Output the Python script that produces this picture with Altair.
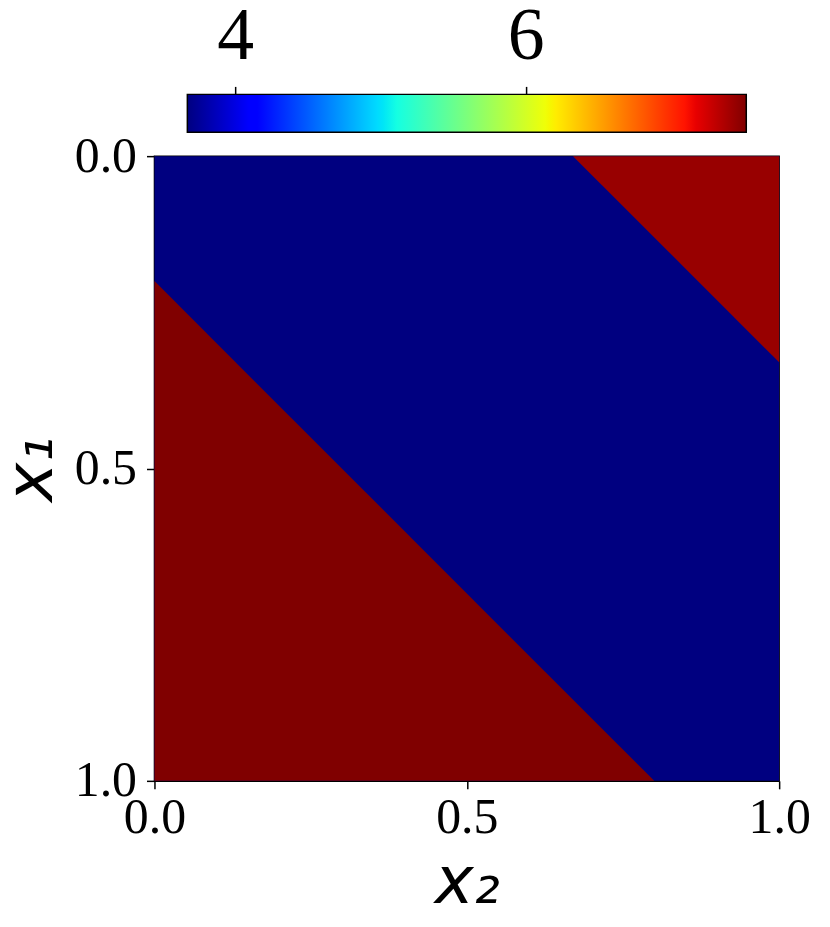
import altair as alt
import numpy as np
import pandas as pd

# ---- data ----
vmin = 3.67            # value of the blue region (colour-bar minimum)
vmax = 7.52            # value of the lower-left red region (colour-bar maximum)
v_upper = 7.44         # value of the upper-right red region

# lower-left region boundary (x2 -> x1), filled down to x1 = 1
lower_x2 = [0.0, 0.8]
lower_x1 = [0.2, 1.0]
# upper-right region boundary (x2 -> x1), filled up to x1 = 0
upper_x2 = [0.67, 1.0]
upper_x1 = [0.0, 0.33]

axis_ticks = [0.0, 0.5, 1.0]
cbar_ticks = [4, 6]

# ---- jet colour map (matplotlib segment data) ----
jet_r = [(0.0, 0.0), (0.35, 0.0), (0.66, 1.0), (0.89, 1.0), (1.0, 0.5)]
jet_g = [(0.0, 0.0), (0.125, 0.0), (0.375, 1.0), (0.64, 1.0), (0.91, 0.0), (1.0, 0.0)]
jet_b = [(0.0, 0.5), (0.11, 1.0), (0.34, 1.0), (0.65, 0.0), (1.0, 0.0)]
ts = sorted(set([p[0] for p in jet_r + jet_g + jet_b]))


def chan(seg, t):
    return float(np.interp(t, [p[0] for p in seg], [p[1] for p in seg]))


def hexcol(t):
    r, g, b = chan(jet_r, t), chan(jet_g, t), chan(jet_b, t)
    return "#%02x%02x%02x" % (round(r * 255), round(g * 255), round(b * 255))


jet_cols = [hexcol(t) for t in ts]
jet_dom = [vmin + t * (vmax - vmin) for t in ts]
cscale = alt.Scale(type="linear", domain=jet_dom, range=jet_cols, interpolate="rgb")

xs = alt.Scale(domain=[0, 1], nice=False, zero=False)
ys = alt.Scale(domain=[0, 1], nice=False, zero=False, reverse=True)

SERIF = "Liberation Serif"
W = 627

bg_df = pd.DataFrame({"a": [0.0], "b": [1.0], "c": [0.0], "d": [1.0], "v": [vmin]})
lower_df = pd.DataFrame({"x2": lower_x2, "x1": lower_x1, "x1b": [1.0] * len(lower_x2), "v": [vmax] * len(lower_x2)})
upper_df = pd.DataFrame({"x2": upper_x2, "x1": upper_x1, "x1b": [0.0] * len(upper_x2), "v": [v_upper] * len(upper_x2)})

xaxis = alt.Axis(values=axis_ticks, format=".1f", title="x₂", labelFlush=False,
                 labelPadding=4, titlePadding=8)
yaxis = alt.Axis(values=axis_ticks, format=".1f", title="x₁", labelFlush=False,
                 labelPadding=10, titlePadding=9)

bg = alt.Chart(bg_df).mark_rect().encode(
    x=alt.X("a:Q", scale=xs, axis=xaxis), x2="b:Q",
    y=alt.Y("c:Q", scale=ys, axis=yaxis), y2="d:Q",
    color=alt.Color("v:Q", scale=cscale, legend=None),
)
lower = alt.Chart(lower_df).mark_area(interpolate="linear").encode(
    x=alt.X("x2:Q", scale=xs), y=alt.Y("x1:Q", scale=ys), y2="x1b:Q",
    color=alt.Color("v:Q", scale=cscale, legend=None),
)
upper = alt.Chart(upper_df).mark_area(interpolate="linear").encode(
    x=alt.X("x2:Q", scale=xs), y=alt.Y("x1:Q", scale=ys), y2="x1b:Q",
    color=alt.Color("v:Q", scale=cscale, legend=None),
)
main = alt.layer(bg, lower, upper).properties(
    width=W, height=W,
    view=alt.ViewBackground(stroke="black", strokeWidth=1.5),
)

# ---- colour bar ----
px_per_unit = 145.7
pad_l = (187 - 154) / px_per_unit
pad_r = (781 - 748) / px_per_unit
cb_df = pd.DataFrame({"lo": [vmin], "hi": [vmax]})
grad = alt.Gradient(
    gradient="linear", x1=0, x2=1, y1=0, y2=0,
    stops=[alt.GradientStop(color=c, offset=t) for t, c in zip(ts, jet_cols)],
)
cbar = alt.Chart(cb_df).mark_rect(fill=grad, stroke="black", strokeWidth=1.5).encode(
    x=alt.X("lo:Q", scale=alt.Scale(domain=[vmin - pad_l, vmax + pad_r], nice=False, zero=False),
            axis=alt.Axis(orient="top", values=cbar_ticks, format="d", domain=False,
                          labelFontSize=74, labelPadding=12, title=None)),
    x2="hi:Q",
    y=alt.value(0), y2=alt.value(38),
).properties(width=W, height=38, view=alt.ViewBackground(stroke="transparent"))

chart = alt.vconcat(cbar, main, spacing=24, bounds="flush").properties(
    padding={"top": -11, "left": -11, "right": 11, "bottom": 10}
).configure_axis(
    labelFont=SERIF, labelFontSize=50, labelColor="black",
    tickColor="black", tickSize=8, tickWidth=1.5,
    domainColor="black", domainWidth=1.5, grid=False,
    titleFont="DejaVu Sans", titleFontStyle="italic", titleFontWeight="normal",
    titleFontSize=66, titleColor="black",
).configure_view(stroke="transparent")

chart.save("out.html", embed_options={"renderer": "svg", "actions": False})
